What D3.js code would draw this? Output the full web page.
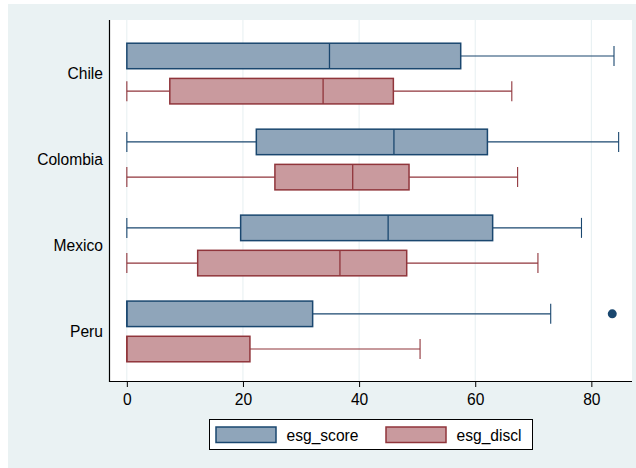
<!DOCTYPE html>
<html>
<head>
<meta charset="utf-8">
<script src="https://cdn.jsdelivr.net/npm/d3@7"></script>
<style>
  body { margin: 0; background: #fff; }
  svg { display: block; }
  text { font-family: "Liberation Sans", Arial, Helvetica, sans-serif; fill: #000; }
</style>
</head>
<body>
<svg id="chart" width="636" height="468"></svg>
<script>
// countries on the y axis, top to bottom
var countries = ["Chile", "Colombia", "Mexico", "Peru"];
// box stats per country: [min, q1, median, q3, max]
var esgScore = [
  [0, 0, 34.9, 57.5, 83.9],
  [0, 22.3, 46.0, 62.1, 84.7],
  [0, 19.6, 45.0, 63.0, 78.3],
  [0, 0, 0, 32.0, 73.0]
];
var esgDiscl = [
  [0, 7.4, 33.8, 45.9, 66.3],
  [0, 25.5, 38.9, 48.6, 67.3],
  [0, 12.2, 36.7, 48.2, 70.8],
  [0, 0, 0, 21.2, 50.5]
];
var esgScoreOut = [[], [], [], [83.6]];
var esgDisclOut = [[], [], [], []];
var xTicks = [0, 20, 40, 60, 80];
var seriesNames = ["esg_score", "esg_discl"];

var series = [
  {name: seriesNames[0], stats: esgScore, out: esgScoreOut, fill: "#8fa5ba", stroke: "#1a476f", off: -17.6},
  {name: seriesNames[1], stats: esgDiscl, out: esgDisclOut, fill: "#c99a9e", stroke: "#90353b", off: 17.6}
];

var svg = d3.select("#chart");
// plot region edges (don't use "top", window.top is read-only)
var plotL = 110, plotR = 632, plotT = 20, plotB = 381;
var fs = 15.6;

// background of the whole graph
svg.append("rect").attr("x", 8).attr("y", 4).attr("width", 628).attr("height", 464).attr("fill", "#eaf2f3");
svg.append("rect").attr("x", plotL).attr("y", plotT).attr("width", plotR - plotL).attr("height", plotB - plotT).attr("fill", "#fff");

var x = d3.scaleLinear().domain([-2.9, 87.0]).range([plotL, plotR]);
// shifted 2px down to line up with the reference box rows
var y = d3.scalePoint().domain(countries).range([plotT + 2, plotB + 2]).padding(0.6);

// grid lines
svg.append("g").selectAll("line").data(xTicks).enter().append("line")
  .attr("x1", function(d){ return x(d); }).attr("x2", function(d){ return x(d); })
  .attr("y1", plotT).attr("y2", plotB)
  .attr("stroke", "#e6eff1").attr("stroke-width", 1);

var boxH = 25.5, capH = 20;

series.forEach(function(s){
  var g = svg.append("g");
  s.stats.forEach(function(st, i){
    var cy = y(countries[i]) + s.off;
    // whiskers
    if (st[0] < st[1]) {
      g.append("line").attr("x1", x(st[0])).attr("x2", x(st[1])).attr("y1", cy).attr("y2", cy)
        .attr("stroke", s.stroke).attr("stroke-width", 1.1);
      g.append("line").attr("x1", x(st[0])).attr("x2", x(st[0])).attr("y1", cy - capH/2).attr("y2", cy + capH/2)
        .attr("stroke", s.stroke).attr("stroke-width", 1.1);
    }
    if (st[4] > st[3]) {
      g.append("line").attr("x1", x(st[3])).attr("x2", x(st[4])).attr("y1", cy).attr("y2", cy)
        .attr("stroke", s.stroke).attr("stroke-width", 1.1);
      g.append("line").attr("x1", x(st[4])).attr("x2", x(st[4])).attr("y1", cy - capH/2).attr("y2", cy + capH/2)
        .attr("stroke", s.stroke).attr("stroke-width", 1.1);
    }
    // box
    g.append("rect").attr("x", x(st[1])).attr("width", x(st[3]) - x(st[1]))
      .attr("y", cy - boxH/2).attr("height", boxH)
      .attr("fill", s.fill).attr("stroke", s.stroke).attr("stroke-width", 1.5);
    // median
    g.append("line").attr("x1", x(st[2])).attr("x2", x(st[2])).attr("y1", cy - boxH/2).attr("y2", cy + boxH/2)
      .attr("stroke", s.stroke).attr("stroke-width", 1.3);
    // outside values
    s.out[i].forEach(function(v){
      g.append("circle").attr("cx", x(v)).attr("cy", cy).attr("r", 4.5).attr("fill", s.stroke);
    });
  });
});

// axes
var xAxis = d3.axisBottom(x).tickValues(xTicks).tickSize(6).tickPadding(7).tickSizeOuter(0);
var gx = svg.append("g").attr("transform", "translate(0," + plotB + ")").call(xAxis);
gx.select(".domain").attr("d", "M" + plotL + ",0.5H" + plotR).attr("stroke", "#000").attr("stroke-width", 1.2);
gx.selectAll(".tick line").attr("stroke", "#000");
gx.selectAll(".tick text").attr("font-size", fs).attr("font-family", "Liberation Sans, Arial, sans-serif").attr("fill", "#000");

var yAxis = d3.axisLeft(y).tickSize(0).tickPadding(7).tickSizeOuter(0);
var gy = svg.append("g").attr("transform", "translate(" + plotL + ",0)").call(yAxis);
gy.select(".domain").attr("d", "M-0.5," + plotT + "V" + (plotB + 1)).attr("stroke", "#000").attr("stroke-width", 1.2);
gy.selectAll(".tick text").attr("font-size", fs).attr("font-family", "Liberation Sans, Arial, sans-serif").attr("fill", "#000");

// legend
var lg = svg.append("g");
lg.append("rect").attr("x", 209.5).attr("y", 419.5).attr("width", 323).attr("height", 30)
  .attr("fill", "#fff").attr("stroke", "#000").attr("stroke-width", 1);
var legX = [216, 386];
series.forEach(function(s, i){
  lg.append("rect").attr("x", legX[i]).attr("y", 427).attr("width", 60).attr("height", 15.5)
    .attr("fill", s.fill).attr("stroke", s.stroke).attr("stroke-width", 1.5);
  lg.append("text").attr("x", legX[i] + 70.5).attr("y", 440.5).attr("font-size", fs).text(s.name);
});
</script>
</body>
</html>
